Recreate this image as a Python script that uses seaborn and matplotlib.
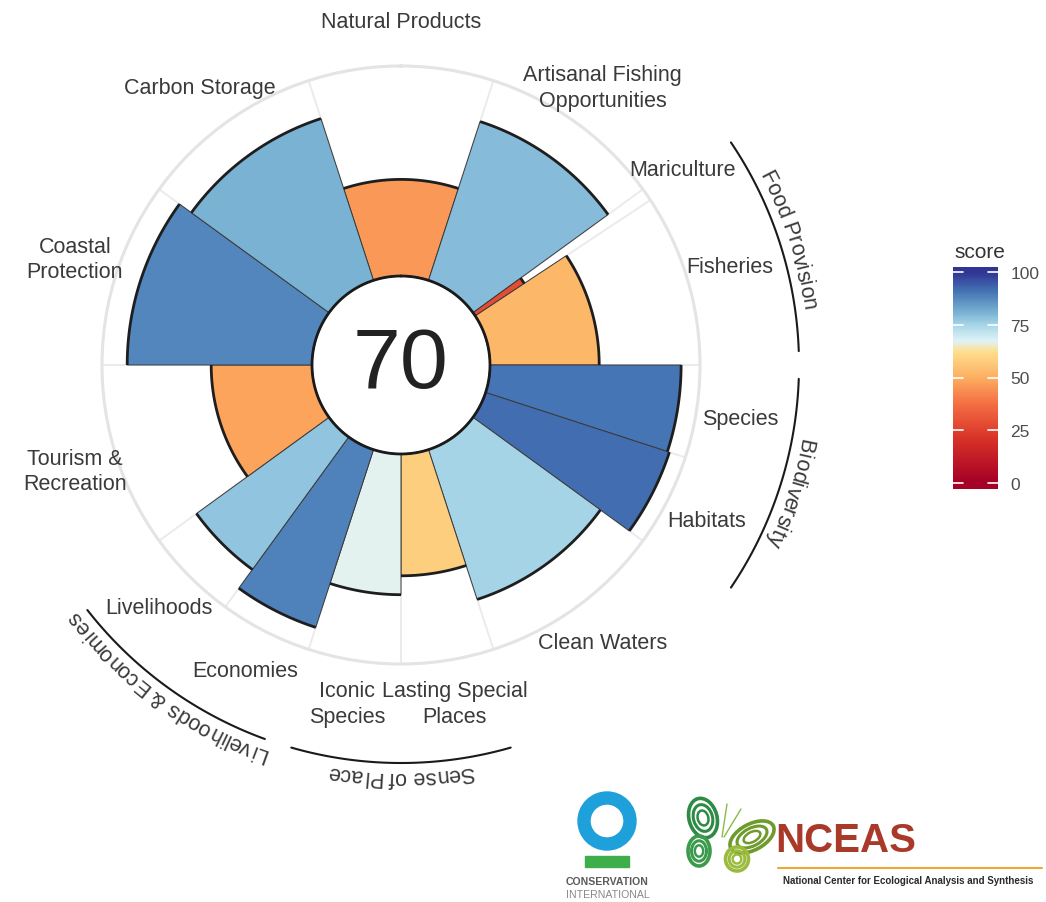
import numpy as np
import matplotlib
matplotlib.use("Agg")
import matplotlib.pyplot as plt
import seaborn as sns
from matplotlib.colors import LinearSegmentedColormap, Normalize
from matplotlib.font_manager import FontProperties, findfont, get_font
from matplotlib import patches

# ---------------- data ----------------
goal_labels = ["Natural Products", "Artisanal Fishing\nOpportunities", "Mariculture", "Fisheries",
               "Species", "Habitats", "Clean Waters", "Lasting Special\nPlaces", "Iconic\nSpecies",
               "Economies", "Livelihoods", "Tourism &\nRecreation", "Coastal\nProtection", "Carbon Storage"]
goal_weights = [1.0, 1.0, 0.07, 0.93, 0.5, 0.5, 1.0, 0.5, 0.5, 0.5, 0.5, 1.0, 1.0, 1.0]
goal_scores = [46, 79.5, 28, 52, 91, 92, 75, 58, 67, 89, 78, 48, 88, 81]
index_score = 70
supra_labels = ["Food Provision", "Biodiversity", "Sense of Place", "Livelihoods & Economies"]
supra_members = [(2, 3), (4, 5), (7, 8), (9, 10)]
cbar_ticks = [0, 25, 50, 75, 100]
palette_pos = [0.0, 0.20, 0.37, 0.50, 0.625, 0.675, 0.745, 0.82, 0.91, 1.0]
palette_cols = ["#A50026", "#D73027", "#F46D43", "#FDAE61", "#FEE090", "#E0F3F8",
                "#ABD9E9", "#74ADD1", "#4575B4", "#313695"]

# ---------------- style ----------------
sns.set_theme(style="white")
plt.rcParams["font.family"] = ["Liberation Sans", "DejaVu Sans"]
cmap = LinearSegmentedColormap.from_list("ohi", list(zip(palette_pos, palette_cols)))
norm = Normalize(0, 100)
text_col = "#3a3a3a"

W, H = 1046, 903
fig = plt.figure(figsize=(W / 100, H / 100), dpi=100)
fig.patch.set_facecolor("white")

cx, cy = 401, 366
R_out, R_in = 299, 89
ppu = (R_out - R_in) / 100.0
hole = R_in / ppu

ax = fig.add_axes([(cx - R_out) / W, (H - cy - R_out) / H, 2 * R_out / W, 2 * R_out / H],
                  projection="polar")
ax.set_theta_zero_location("N")
ax.set_theta_direction(-1)
ax.set_facecolor("white")


def rad(d):
    return np.radians(np.mod(d, 360.0))


w_deg = np.array(goal_weights) * 36.0
bounds = -18.0 + np.concatenate([[0], np.cumsum(w_deg)])
centers = (bounds[:-1] + bounds[1:]) / 2.0

colors = cmap(norm(np.array(goal_scores)))
ax.bar(rad(centers), goal_scores, width=np.radians(w_deg), bottom=0,
       color=colors, edgecolor="#3a3a3a", linewidth=0.7, align="center", zorder=2)
for b0, b1, sc in zip(bounds[:-1], bounds[1:], goal_scores):
    th = np.radians(np.linspace(b0, b1, 60))
    ax.plot(th, np.full_like(th, sc), color="#1e1e1e", lw=2.0, solid_capstyle="butt", zorder=3)

# inner circle
th = np.linspace(0, 2 * np.pi, 400)
ax.plot(th, np.zeros_like(th), color="#1a1a1a", lw=2.0, zorder=4, clip_on=False)

# gridlines at goal boundaries
ax.set_xticks(rad(bounds[:-1]))
ax.set_xticklabels([])
ax.set_yticks([])
ax.xaxis.grid(True, color="#EBEBEB", lw=1.4)
ax.yaxis.grid(False)
ax.set_axisbelow(True)
ax.spines["polar"].set_color("#E4E4E4")
ax.spines["polar"].set_linewidth(2.2)
for s in ["inner", "start", "end"]:
    if s in ax.spines:
        ax.spines[s].set_visible(False)

ax.text(0.5, 0.5, str(index_score), transform=ax.transAxes, ha="center", va="center",
        fontsize=62, color="#222222", zorder=5)

# goal labels
r_lab = (343 - R_in) / ppu
for c, lab in zip(centers, goal_labels):
    ax.text(rad(c), r_lab, lab, ha="center", va="center", fontsize=15.5,
            color=text_col, linespacing=1.3, multialignment="center", clip_on=False)

# supragoal arcs and curved labels
fsize = 15.5
fp = FontProperties(family=["Liberation Sans", "DejaVu Sans"], size=fsize)
ft = get_font(findfont(fp))
ft.set_size(fsize, 100)
try:
    from matplotlib.ft2font import LoadFlags
    _flag = LoadFlags.NO_HINTING
except Exception:
    from matplotlib.ft2font import LOAD_NO_HINTING as _flag


def adv(ch):
    g = ft.load_char(ord(ch), flags=_flag)
    return g.linearHoriAdvance / 65536.0


r_arc = (398 - R_in) / ppu
base_px = 406
r_base = (base_px - R_in) / ppu
for lab, (i0, i1) in zip(supra_labels, supra_members):
    a0, a1 = bounds[i0] + 2.0, bounds[i1 + 1] - 2.0
    tt = rad(np.linspace(a0, a1, 100))
    ax.plot(tt, np.full_like(tt, r_arc), color="#1a1a1a", lw=1.5, clip_on=False)
    mid = (bounds[i0] + bounds[i1 + 1]) / 2.0
    advs = [adv(ch) for ch in lab]
    total = sum(advs)
    cum = 0.0
    for ch, a in zip(lab, advs):
        pos = cum + a / 2.0 - total / 2.0
        cum += a
        if ch == " ":
            continue
        phi = mid + np.degrees(pos / base_px)
        ax.text(rad(phi), r_base, ch, rotation=-phi, rotation_mode="anchor",
                ha="center", va="baseline", fontproperties=fp, color=text_col, clip_on=False)

ax.set_xlim(0, 2 * np.pi)
ax.set_ylim(0, 100)
ax.set_rorigin(-hole)

# ---------------- colour bar ----------------
cb_top, cb_bot = 268, 490
v_top = (484 - cb_top) / 2.11
v_bot = (484 - cb_bot) / 2.11
cax = fig.add_axes([953 / W, (H - cb_bot) / H, 45 / W, (cb_bot - cb_top) / H])
grad = np.linspace(v_bot, v_top, 300).reshape(-1, 1)
cax.imshow(grad, aspect="auto", cmap=cmap, norm=norm, origin="lower",
           extent=[0, 1, v_bot, v_top])
cax.set_xlim(0, 1)
cax.set_ylim(v_bot, v_top)
cax.set_xticks([])
cax.yaxis.tick_right()
cax.set_yticks(cbar_ticks)
cax.set_yticklabels([str(t) for t in cbar_ticks])
cax.tick_params(axis="y", length=0, pad=9, labelsize=12.5, labelcolor="#4d4d4d")
for s in cax.spines.values():
    s.set_visible(False)
tr = cax.get_yaxis_transform()
for t in cbar_ticks:
    cax.plot([0, 0.22], [t, t], color="white", lw=1.2, transform=tr)
    cax.plot([0.78, 1], [t, t], color="white", lw=1.2, transform=tr)
fig.text(954 / W, 1 - 252 / H, "score", ha="left", va="center", fontsize=15, color="#333333")

# ---------------- logos ----------------
lax = fig.add_axes([0, 0, 1, 1])
lax.set_xlim(0, W)
lax.set_ylim(H, 0)
lax.axis("off")
# Conservation International
lax.add_patch(patches.Wedge((607, 822), 29, 0, 360, width=12, color="#1EA0DA"))
lax.add_patch(patches.Rectangle((585, 857), 44, 11, color="#3DAE49"))
lax.text(607.5, 882, "CONSERVATION", ha="center", va="center", fontsize=7.6,
         weight="bold", color="#5a5a5a")
lax.text(607.5, 895, "INTERNATIONAL", ha="center", va="center", fontsize=7.6,
         color="#8a8a8a")
# NCEAS butterfly
wings = [((703, 819), 28, 40, -15, "#2E8B45"),
         ((699, 852), 22, 30, 0, "#3C9A4C"),
         ((752, 838), 48, 26, -28, "#6F9A2C"),
         ((737, 860), 23, 24, 0, "#9BBB3E")]
for (xy, ww, hh, ang, col) in wings:
    for sc, lw in [(1.0, 2.6), (0.68, 2.2), (0.38, 1.8)]:
        lax.add_patch(patches.Ellipse(xy, ww * sc, hh * sc, angle=ang, fill=False,
                                      edgecolor=col, lw=lw))
lax.plot([722, 727], [838, 805], color="#8DB84A", lw=1.0)
lax.plot([724, 741], [838, 810], color="#8DB84A", lw=1.0)
lax.text(775, 852, "NCEAS", ha="left", va="baseline", fontsize=29, weight="bold",
         color="#A93A2A")
lax.plot([778, 1042], [869, 869], color="#EDA83A", lw=1.5)
lax.text(783, 881, "National Center for Ecological Analysis and Synthesis", ha="left",
         va="center", fontsize=7, weight="bold", color="#2a2a2a")

fig.savefig("out.png", dpi=100, facecolor="white")
